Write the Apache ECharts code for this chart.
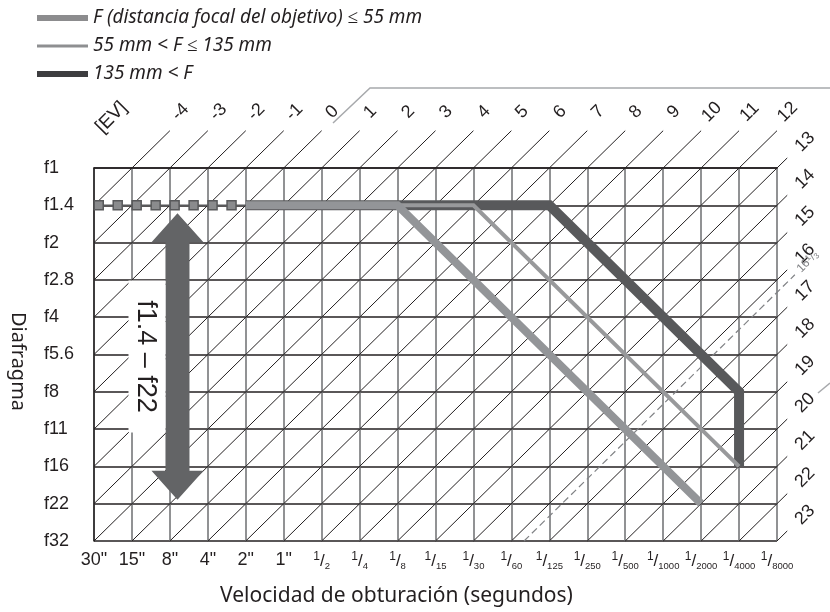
<!DOCTYPE html>
<html>
<head>
<meta charset="utf-8">
<script src="https://cdn.jsdelivr.net/npm/echarts@6/dist/echarts.min.js"></script>
<style>
  html, body { margin: 0; padding: 0; background: #fff; }
  #chart { width: 830px; height: 612px; }
</style>
</head>
<body>
<div id="chart"></div>
<script>
// shutter speeds (x) and apertures (y), one grid step = one EV
const shutterLabels = ['30"', '15"', '8"', '4"', '2"', '1"', '1/2', '1/4', '1/8', '1/15', '1/30',
  '1/60', '1/125', '1/250', '1/500', '1/1000', '1/2000', '1/4000', '1/8000'];
const apertureLabels = ['f1', 'f1.4', 'f2', 'f2.8', 'f4', 'f5.6', 'f8', 'f11', 'f16', 'f22', 'f32'];

const evTop = [-4, -3, -2, -1, 0, 1, 2, 3, 4, 5, 6, 7, 8, 9, 10, 11, 12];
const evRight = [13, 14, 15, 16, 17, 18, 19, 20, 21, 22, 23];
const evLimit = 16 + 1 / 3;

// program lines, as [shutter, aperture]
const lensShort = [['2"', 'f1.4'], ['1/8', 'f1.4'], ['1/2000', 'f22']];
const lensMid = [['2"', 'f1.4'], ['1/30', 'f1.4'], ['1/4000', 'f16']];
const lensLong = [['2"', 'f1.4'], ['1/125', 'f1.4'], ['1/4000', 'f8'], ['1/4000', 'f16']];
// dotted part at f1.4 (in shutter steps)
const dottedSteps = [0.125, 0.625, 1.125, 1.625, 2.125, 2.625, 3.125, 3.625];
const dottedEnd = ['2"', 'f1.4'];

const apertureRange = ['f1.4', 'f22'];
const rangeText = 'f1.4 – f22';
const arrowStep = 2.2;

const nameShort = 'F (distancia focal del objetivo) ≤ 55 mm';
const nameMid = '55 mm < F ≤ 135 mm';
const nameLong = '135 mm < F';

const ink = '#231f20';
const sans = 'Liberation Sans';

function toPt(p) {
  return [shutterLabels.indexOf(p[0]), apertureLabels.indexOf(p[1])];
}

function shutterText(v) {
  const t = shutterLabels[v];
  if (t == null) return '';
  if (t.indexOf('1/') === 0) return '{n|1}{s|/}{d|' + t.slice(2) + '}';
  return t;
}

let myChart = echarts.init(document.getElementById('chart'));

function evItem(params, api) {
  const ev = api.value(0);
  const s = ev + 5;
  const nx = shutterLabels.length - 1, ny = apertureLabels.length - 1;
  const j0 = Math.min(ny, s), i0 = s - j0;
  const i1 = Math.min(nx, s), j1 = s - i1;
  let end, lab;
  if (i1 < nx) {
    end = [i1 + 1, j1 - 1];
    lab = [i1 + 1.28, -1.5];
  } else {
    end = [nx + 0.27, j1 - 0.27];
    lab = [nx + 0.74, j1 - 0.7];
  }
  const p0 = api.coord([i0, j0]);
  const p1 = api.coord(end);
  const pl = api.coord(lab);
  return {
    type: 'group',
    children: [
      { type: 'line', shape: { x1: p0[0], y1: p0[1], x2: p1[0], y2: p1[1] },
        style: { stroke: ink, lineWidth: 1 } },
      { type: 'text', x: pl[0], y: pl[1], rotation: Math.PI / 4,
        style: { text: String(ev), fill: ink, fontSize: 18, fontFamily: sans,
          align: 'center', verticalAlign: 'middle' } }
    ]
  };
}

function limitItem(params, api) {
  const s = api.value(0) + 5;
  const nx = shutterLabels.length - 1, ny = apertureLabels.length - 1;
  const p0 = api.coord([s - ny, ny]);
  const p1 = api.coord([nx + 0.47, s - nx - 0.47]);
  const pl = api.coord([nx + 0.81, s - nx - 0.82]);
  return {
    type: 'group',
    children: [
      { type: 'line', shape: { x1: p0[0], y1: p0[1], x2: p1[0], y2: p1[1] },
        style: { stroke: '#808285', lineWidth: 1.2, lineDash: [7, 4] } },
      { type: 'text', x: pl[0], y: pl[1], rotation: Math.PI / 4,
        style: { text: '16{a|1}{b|/}{c|3}', fill: '#808285', fontSize: 12, fontFamily: sans,
          align: 'center', verticalAlign: 'middle',
          rich: {
            a: { fontSize: 8, verticalAlign: 'top', lineHeight: 9, fill: '#808285' },
            b: { fontSize: 11, lineHeight: 13, fill: '#808285' },
            c: { fontSize: 8, verticalAlign: 'bottom', lineHeight: 9, fill: '#808285' }
          } } }
    ]
  };
}

function arrowItem(params, api) {
  const top = api.coord([api.value(0), api.value(1)]);
  const bot = api.coord([api.value(0), api.value(2)]);
  const cx = top[0];
  const t = top[1] + 8, b = bot[1] - 4;
  const hw = 12, hh = 26, hl = 29;
  const pts = [
    [cx, t], [cx + hh, t + hl], [cx + hw, t + hl], [cx + hw, b - hl], [cx + hh, b - hl],
    [cx, b], [cx - hh, b - hl], [cx - hw, b - hl], [cx - hw, t + hl], [cx - hh, t + hl]
  ];
  const mid = (t + b) / 2;
  return {
    type: 'group',
    children: [
      { type: 'polygon', shape: { points: pts }, style: { fill: '#636466' } },
      { type: 'rect', shape: { x: cx - hw - 37, y: mid - 76, width: 37, height: 152 },
        style: { fill: '#fff' } },
      { type: 'text', x: cx - hw - 20, y: mid, rotation: -Math.PI / 2,
        style: { text: rangeText, fill: ink, fontSize: 27, fontFamily: sans,
          align: 'center', verticalAlign: 'middle' } }
    ]
  };
}

myChart.setOption({
  animation: false,
  backgroundColor: '#fff',
  grid: { left: 92, right: 53, top: 168, bottom: 69, containLabel: false },
  legend: {
    orient: 'vertical',
    left: 29,
    top: 3,
    itemWidth: 51,
    itemHeight: 14,
    itemGap: 8,
    selectedMode: false,
    textStyle: { fontSize: 19, lineHeight: 20, fontStyle: 'italic', fontFamily: 'Noto Sans', color: ink },
    data: [
      { name: nameShort, lineStyle: { width: 6, color: '#8c8c8e' }, itemStyle: { opacity: 0 } },
      { name: nameMid, lineStyle: { width: 3, color: '#8e8f91' }, itemStyle: { opacity: 0 } },
      { name: nameLong, lineStyle: { width: 6, color: '#3d3d3f' }, itemStyle: { opacity: 0 } }
    ]
  },
  graphic: [
    { type: 'polyline', shape: { points: [[333, 123], [370, 88], [830, 88]] },
      style: { stroke: '#a7a9ac', lineWidth: 1.5, fill: null }, silent: true },
    { type: 'line', shape: { x1: 818, y1: 393, x2: 830, y2: 383 },
      style: { stroke: '#a7a9ac', lineWidth: 1.5 }, silent: true },
    { type: 'text', left: 92, top: 98, rotation: Math.PI / 4,
      style: { text: '[EV]', fill: ink, fontSize: 19, fontFamily: sans } }
  ],
  xAxis: {
    type: 'value',
    min: 0,
    max: shutterLabels.length - 1,
    interval: 1,
    name: 'Velocidad de obturación (segundos)',
    nameLocation: 'middle',
    nameGap: 45,
    nameTextStyle: { fontSize: 21, fontFamily: 'Noto Sans', color: ink, padding: [0, 78, 0, 0] },
    axisLine: { show: true, lineStyle: { color: ink, width: 1.5 } },
    axisTick: { show: false },
    splitLine: { show: true, lineStyle: { color: '#6d6e71', width: 1.5 } },
    axisLabel: {
      margin: 10,
      fontSize: 18,
      fontFamily: sans,
      color: ink,
      formatter: shutterText,
      rich: {
        n: { fontSize: 12, fontFamily: sans, color: ink, verticalAlign: 'top', lineHeight: 12 },
        s: { fontSize: 17, fontFamily: sans, color: ink, lineHeight: 20 },
        d: { fontSize: 9.5, fontFamily: sans, color: ink, verticalAlign: 'bottom', lineHeight: 10 }
      }
    }
  },
  yAxis: {
    type: 'value',
    min: 0,
    max: apertureLabels.length - 1,
    interval: 1,
    inverse: true,
    name: 'Diafragma',
    nameLocation: 'middle',
    nameRotate: -90,
    nameGap: 66,
    nameTextStyle: { fontSize: 20, fontFamily: 'Noto Sans', color: ink, padding: [0, 0, 0, 14] },
    axisLine: { show: true, lineStyle: { color: ink, width: 1.5 } },
    axisTick: { show: false },
    splitLine: { show: true, lineStyle: { color: ink, width: 1.5 } },
    axisLabel: {
      align: 'left',
      margin: 50,
      fontSize: 18,
      fontFamily: sans,
      color: ink,
      formatter: function (v) { return apertureLabels[v] || ''; }
    }
  },
  series: [
    {
      type: 'custom',
      renderItem: evItem,
      data: evTop.concat(evRight).map(function (v) { return [v, 0]; }),
      z: 2,
      silent: true
    },
    {
      type: 'custom',
      renderItem: limitItem,
      data: [[evLimit, 0]],
      z: 2,
      silent: true
    },
    {
      name: nameLong,
      type: 'line',
      data: lensLong.map(toPt),
      symbol: 'none',
      lineStyle: { color: '#58595b', width: 10, join: 'miter' },
      itemStyle: { color: '#58595b' },
      z: 3
    },
    {
      name: nameMid,
      type: 'line',
      data: lensMid.map(toPt),
      symbol: 'none',
      lineStyle: { color: '#98999b', width: 4, join: 'miter' },
      itemStyle: { color: '#98999b' },
      z: 3
    },
    {
      name: nameShort,
      type: 'line',
      data: lensShort.map(toPt),
      symbol: 'none',
      lineStyle: { color: '#939598', width: 8, join: 'miter' },
      itemStyle: { color: '#939598' },
      z: 3
    },
    {
      type: 'line',
      data: dottedSteps.map(function (x) { return [x, 1]; })
        .concat([{ value: toPt(dottedEnd), symbol: 'none' }]),
      symbol: 'rect',
      symbolSize: 9,
      itemStyle: { color: '#8a8b8d', borderColor: '#58595b', borderWidth: 1.5 },
      lineStyle: { color: '#58595b', width: 1.5 },
      z: 4
    },
    {
      type: 'custom',
      renderItem: arrowItem,
      data: [[arrowStep, apertureLabels.indexOf(apertureRange[0]), apertureLabels.indexOf(apertureRange[1])]],
      z: 5,
      silent: true
    }
  ]
});

window.addEventListener('resize', function () {
  myChart.resize();
});
</script>
</body>
</html>
